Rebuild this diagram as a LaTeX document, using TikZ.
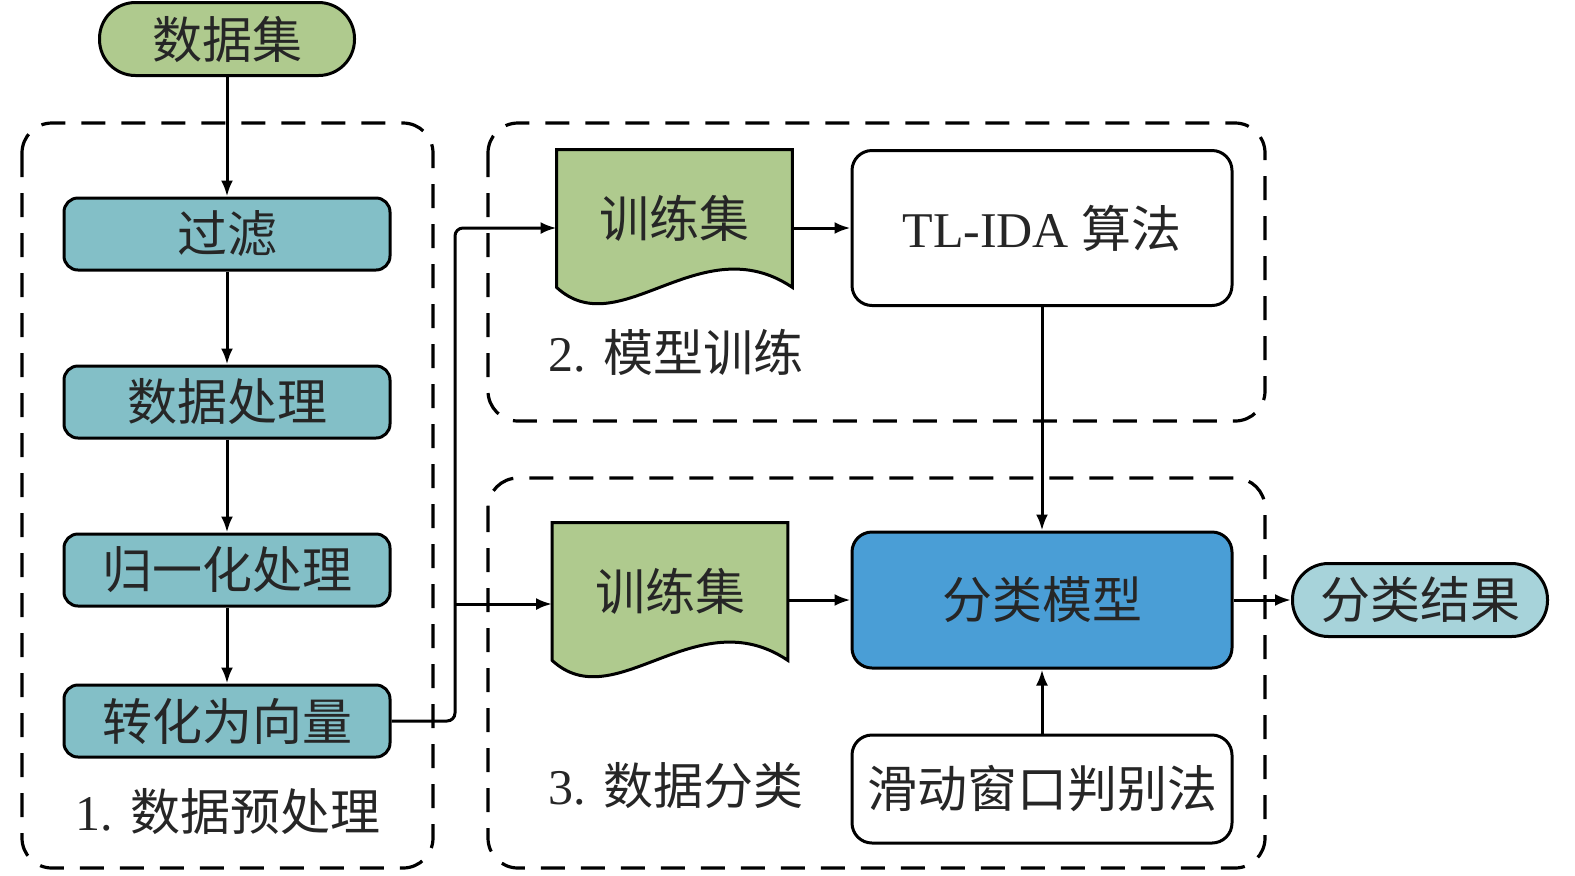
\documentclass[tikz,border=0pt]{standalone}
\usepackage{fontspec}
\setmainfont{Liberation Serif}
\newfontfamily\cjk{Noto Sans CJK SC}
\usetikzlibrary{arrows.meta}
\definecolor{cgreen}{HTML}{AFCA8E}
\definecolor{cteal}{HTML}{83BFC7}
\definecolor{cblue}{HTML}{4A9ED6}
\definecolor{clblue}{HTML}{A7D3DA}
\pgfdeclarelayer{bg}
\pgfsetlayers{bg,main}
\tikzset{
  txt/.style={font=\cjk\fontsize{25}{30}\selectfont, inner sep=0pt, text=black!85},
  proc/.style={txt, draw=black, line width=1.5pt, rounded corners=7pt, minimum width=163pt, minimum height=36pt, fill=cteal},
  pill/.style={txt, draw=black, line width=1.5pt, rounded corners=18pt, minimum width=127.5pt, minimum height=36.5pt},
  wbox/.style={txt, draw=black, line width=1.5pt, rounded corners=10pt, minimum width=190pt, fill=white},
  docnode/.style={txt, minimum width=117.5pt, minimum height=68.5pt},
  docshape/.style={draw=black, line width=1.5pt, fill=cgreen},
  grp/.style={draw=black, line width=1.6pt, dash pattern=on 12pt off 8pt, rounded corners=15pt},
  arr/.style={draw=black, line width=1.5pt, -{Latex[length=8pt,width=6pt]}},
  lab/.style={txt}
}
\begin{document}
\begin{tikzpicture}[x=0.5pt,y=-0.5pt]
\useasboundingbox (0,0) rectangle (1575,875);

% group frames
\draw[grp] (22,123) rectangle (433,868);
\draw[grp] (488,123) rectangle (1265,421);
\draw[grp] (488,478) rectangle (1265,868);

% nodes
\node[pill, fill=cgreen] (ds) at (227,39) {数据集};
\node[proc] (f1) at (227,234) {过滤};
\node[proc] (f2) at (227,402) {数据处理};
\node[proc] (f3) at (227,570) {归一化处理};
\node[proc] (f4) at (227,721) {转化为向量};
\node[lab] (lab1) at (228,812) {\rmfamily 1. {\cjk 数据预处理}};

\node[docnode] (d1) at (674.5,218.5) {训练集};
\node[wbox, minimum height=77.5pt] (tl) at (1042,228) {\rmfamily TL-IDA {\cjk 算法}};
\node[lab] (lab2) at (676,352) {\rmfamily 2. {\cjk 模型训练}};

\node[docnode] (d2) at (670,591.5) {训练集};
\node[wbox, minimum height=68pt, fill=cblue] (cm) at (1042,600) {分类模型};
\node[wbox, minimum height=54pt] (sw) at (1042,789) {滑动窗口判别法};
\node[lab] (lab3) at (676,786) {\rmfamily 3. {\cjk 数据分类}};
\node[pill, fill=clblue] (res) at (1420,600) {分类结果};

\coordinate (bus) at (455,604);

\begin{pgfonlayer}{bg}
\draw[docshape] (d1.south west) -- (d1.north west) -- (d1.north east) -- (d1.south east)
  .. controls +(-92,-62) and +(63,58) .. (d1.south west) -- cycle;
\draw[docshape] (d2.south west) -- (d2.north west) -- (d2.north east) -- (d2.south east)
  .. controls +(-92,-62) and +(63,58) .. (d2.south west) -- cycle;
\end{pgfonlayer}

% connectors
\draw[arr] (ds) -- (f1);
\draw[arr] (f1) -- (f2);
\draw[arr] (f2) -- (f3);
\draw[arr] (f3) -- (f4);
\draw[arr, rounded corners=4pt] (f4.east) -| (bus) |- (d1.west |- tl.west);
\draw[arr] (bus) -- (bus -| d2.west);
\draw[arr] (d1.east |- tl.west) -- (tl.west);
\draw[arr] (tl.south) -- (cm.north);
\draw[arr] (d2.east |- cm.west) -- (cm.west);
\draw[arr] (sw.north) -- (cm.south);
\draw[arr] (cm.east) -- (res.west);
\end{tikzpicture}
\end{document}
